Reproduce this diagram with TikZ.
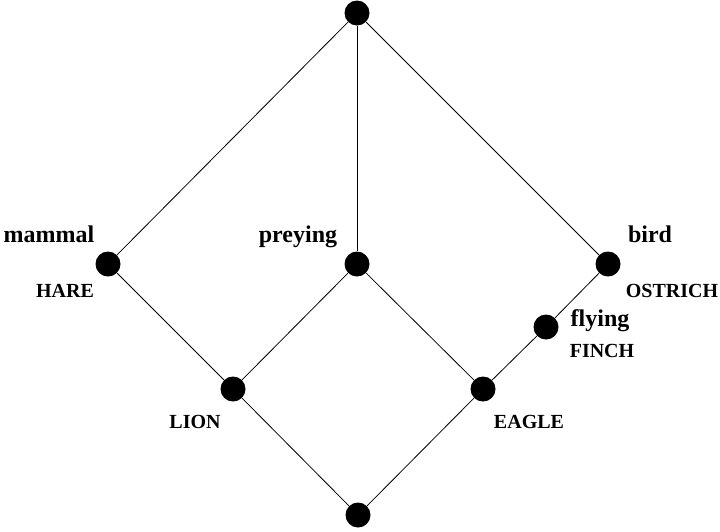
\documentclass[tikz,border=0pt]{standalone}
\usepackage{fontspec}
\setmainfont{Liberation Serif}
\usetikzlibrary{positioning}
\tikzset{
  every picture/.style={line width=0.8pt},
  concept/.style={circle, fill=black, inner sep=0pt, minimum size=25pt},
  attr/.style={font=\bfseries\fontsize{24}{26}\selectfont, anchor=base, inner sep=0pt},
  obj/.style={font=\bfseries\fontsize{20}{22}\selectfont, anchor=base, inner sep=0pt},
}

\begin{document}
\begin{tikzpicture}[x=1pt, y=-1pt]
  \useasboundingbox (0,0) rectangle (720,531);
  % lattice nodes
  \node[concept] (top) at (357,13) {};
  \node[concept] (mammal) at (108,264) {};
  \node[concept] (preying) at (357,264) {};
  \node[concept] (bird) at (608,264) {};
  \node[concept] (flying) at (546,327) {};
  \node[concept] (lion) at (233,389) {};
  \node[concept] (eagle) at (483,389) {};
  \node[concept] (bottom) at (358,515) {};
  % edges
  \draw (top) -- (mammal);
  \draw (top) -- (preying);
  \draw (top) -- (bird);
  \draw (mammal) -- (lion);
  \draw (preying) -- (lion);
  \draw (preying) -- (eagle);
  \draw (bird) -- (flying);
  \draw (flying) -- (eagle);
  \draw (lion) -- (bottom);
  \draw (eagle) -- (bottom);
  % attribute labels
  \node[attr] (lmammal) at (49,242) {mammal};
  \node[attr] (lpreying) at (298,242) {preying};
  \node[attr] (lbird) at (650,242) {bird};
  \node[attr] (lflying) at (600,326) {flying};
  % object labels
  \node[obj] (lhare) at (65,297) {HARE};
  \node[obj] (lostrich) at (672,297) {OSTRICH};
  \node[obj] (lfinch) at (602,357) {FINCH};
  \node[obj] (llion) at (195,428) {LION};
  \node[obj] (leagle) at (529,428) {EAGLE};
\end{tikzpicture}
\end{document}
